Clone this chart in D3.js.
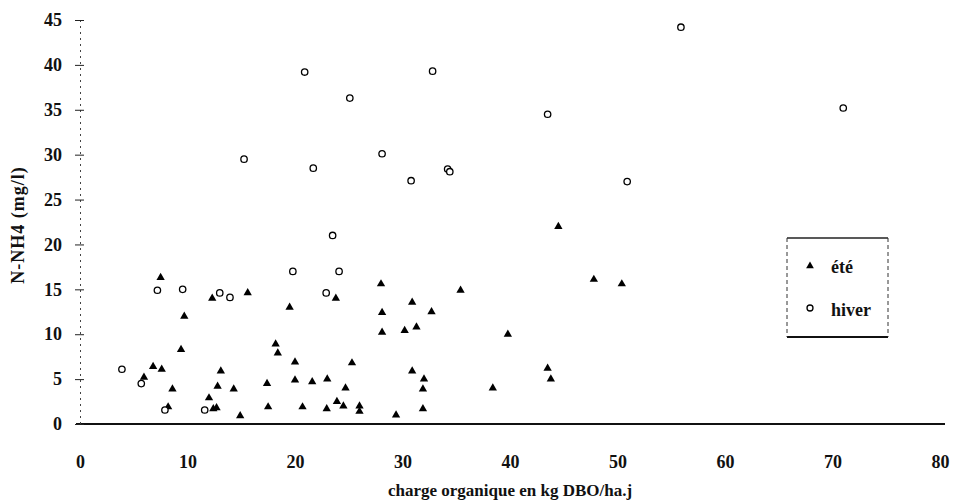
<!DOCTYPE html>
<html>
<head>
<meta charset="utf-8">
<script src="https://cdn.jsdelivr.net/npm/d3@7"></script>
<style>
  body { margin: 0; background: #fff; }
  svg text { font-family: "Liberation Serif", "DejaVu Serif", serif; font-weight: bold; fill: #111; }
</style>
</head>
<body>
<svg id="chart" width="958" height="501"></svg>
<script>
// été (summer) points: charge organique (x) vs N-NH4 (y)
const eteX = [5.95, 6.8, 7.6, 7.5, 8.2, 8.6, 9.4, 9.7, 12.0, 12.4, 12.7, 12.3, 12.8, 13.1, 14.3, 14.9, 15.6,
  17.4, 17.5, 18.2, 18.4, 19.5, 20.0, 20.0, 20.7, 21.6, 23.0, 22.95, 23.8, 23.9, 24.5, 24.7, 25.3, 26.0, 26.0,
  28.0, 28.1, 28.1, 29.4, 30.2, 30.9, 31.3, 30.9, 32.0, 31.9, 31.9, 32.7, 35.4, 38.4, 39.8, 43.5, 43.8, 44.5,
  47.8, 50.4];
const eteY = [5.2, 6.4, 6.1, 16.3, 1.9, 3.9, 8.3, 12.0, 2.9, 1.7, 1.8, 14.0, 4.2, 5.9, 3.9, 0.9, 14.6,
  4.5, 1.9, 8.9, 7.9, 13.0, 6.9, 4.9, 1.9, 4.7, 5.0, 1.7, 14.0, 2.5, 2.0, 4.0, 6.8, 2.0, 1.4,
  15.6, 12.4, 10.2, 1.0, 10.4, 13.55, 10.8, 5.9, 5.0, 3.9, 1.7, 12.5, 14.9, 4.0, 10.0, 6.2, 5.0, 22.0,
  16.1, 15.6];

// hiver (winter) points
const hiverX = [3.9, 5.7, 7.2, 7.9, 9.55, 11.6, 13.0, 13.95, 15.26, 19.8, 20.9, 21.7, 22.9, 23.5, 24.1,
  25.1, 28.1, 30.8, 32.8, 34.2, 34.4, 43.5, 50.9, 55.9, 71.0];
const hiverY = [6.1, 4.5, 14.9, 1.56, 15.0, 1.56, 14.6, 14.1, 29.5, 17.0, 39.2, 28.5, 14.6, 21.0, 17.0,
  36.3, 30.1, 27.1, 39.3, 28.4, 28.1, 34.5, 27.0, 44.2, 35.2];

const xTicks = [0, 10, 20, 30, 40, 50, 60, 70, 80];
const yTicks = [0, 5, 10, 15, 20, 25, 30, 35, 40, 45];
const legendLabels = ["été", "hiver"];

const svg = d3.select("#chart");
const x = d3.scaleLinear().domain([0, 80]).range([80, 940]);
const y = d3.scaleLinear().domain([0, 45]).range([424, 20]);

// x axis: labels only, baseline drawn separately
svg.append("g")
  .attr("transform", "translate(0,424)")
  .call(d3.axisBottom(x).tickValues(xTicks).tickSize(0).tickPadding(31))
  .call(g => g.select(".domain").remove())
  .selectAll("text").style("font-size", "18px");

svg.append("line")
  .attr("x1", x(0) - 4).attr("x2", 945)
  .attr("y1", y(0)).attr("y2", y(0))
  .attr("stroke", "#111").attr("stroke-width", 2);

// y axis with cross-shaped ticks
const yg = svg.append("g")
  .attr("transform", "translate(80,0)")
  .call(d3.axisLeft(y).tickValues(yTicks).tickSize(5).tickPadding(13));
yg.select(".domain")
  .attr("stroke", "#444").attr("stroke-width", 1).attr("stroke-dasharray", "2,4");
yg.selectAll(".tick line").attr("stroke", "#222").attr("x2", 4).attr("x1", -5);
yg.selectAll("text").style("font-size", "18px");

// axis titles
svg.append("text")
  .attr("x", 510).attr("y", 496)
  .attr("text-anchor", "middle")
  .style("font-size", "17px")
  .text("charge organique en kg DBO/ha.j");

svg.append("text")
  .attr("transform", "translate(24,225) rotate(-90)")
  .attr("text-anchor", "middle")
  .style("font-size", "18px")
  .style("letter-spacing", "1px")
  .text("N-NH4 (mg/l)");

// points
const tri = d3.symbol().type(d3.symbolTriangle).size(30);

svg.append("g").selectAll("path")
  .data(d3.range(eteX.length))
  .join("path")
  .attr("d", tri)
  .attr("transform", i => `translate(${x(eteX[i])},${y(eteY[i])})`)
  .attr("fill", "#000");

svg.append("g").selectAll("circle")
  .data(d3.range(hiverX.length))
  .join("circle")
  .attr("cx", i => x(hiverX[i]))
  .attr("cy", i => y(hiverY[i]))
  .attr("r", 3.2)
  .attr("fill", "#fff")
  .attr("stroke", "#000")
  .attr("stroke-width", 1.3);

// legend
const lg = svg.append("g");
const lx0 = 787, lx1 = 888, ly0 = 238, ly1 = 337;
lg.append("line").attr("x1", lx0).attr("x2", lx1).attr("y1", ly0).attr("y2", ly0)
  .attr("stroke", "#222").attr("stroke-width", 1.5);
lg.append("line").attr("x1", lx0).attr("x2", lx1).attr("y1", ly1).attr("y2", ly1)
  .attr("stroke", "#111").attr("stroke-width", 2);
[lx0, lx1].forEach(lx => {
  lg.append("line").attr("x1", lx).attr("x2", lx).attr("y1", ly0).attr("y2", ly1)
    .attr("stroke", "#333").attr("stroke-width", 1).attr("stroke-dasharray", "4,3");
});

lg.append("path").attr("d", d3.symbol().type(d3.symbolTriangle).size(26))
  .attr("transform", "translate(810,266)").attr("fill", "#000");
lg.append("circle").attr("cx", 810).attr("cy", 308).attr("r", 3)
  .attr("fill", "#fff").attr("stroke", "#000").attr("stroke-width", 1.3);

lg.selectAll("text.lbl")
  .data(legendLabels)
  .join("text")
  .attr("class", "lbl")
  .attr("x", 831)
  .attr("y", (d, i) => i === 0 ? 273 : 316)
  .style("font-size", "18px")
  .text(d => d);
</script>
</body>
</html>
